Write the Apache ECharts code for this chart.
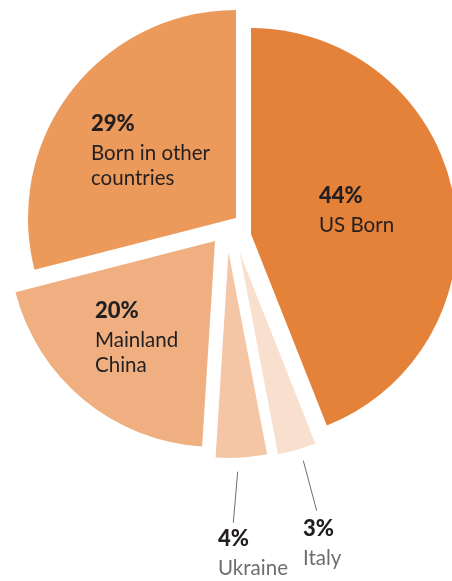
<!DOCTYPE html>
<html><head><meta charset="utf-8">
<script src="https://cdn.jsdelivr.net/npm/echarts@6/dist/echarts.min.js"></script>
<style>html,body{margin:0;padding:0;background:#fff}#c{width:452px;height:581px}</style>
</head><body><div id="c"></div>
<script>
// ---- data ----
const categories = ['US Born', 'Italy', 'Ukraine', 'Mainland China', 'Born in other countries'];
const labelNames = ['US Born', 'Italy', 'Ukraine', 'Mainland\nChina', 'Born in other\ncountries'];
const values = [44, 3, 4, 20, 29];

// ---- style / layout ----
const colors = ['#E5823A', '#F9DFCE', '#F5C6A5', '#EFAF80', '#EB9A5B'];
const sliceCenters = [[251, 234], [239.5, 252], [228.5, 252], [215, 241], [236, 218]];
const sliceRadius = [206, 206, 206, 206, 208];
const labelPos = [[319, 179], [303, 512], [218, 522], [95, 294], [91, 107]];
const nameColors = ['#231F20', '#6D6E71', '#6D6E71', '#231F20', '#231F20'];
const FONT = 'Lato, "Open Sans", sans-serif';

const chart = echarts.init(document.getElementById('c'), null, {renderer: 'canvas'});

const series = values.map((_, i) => ({
  type: 'pie',
  silent: true,
  animation: false,
  center: sliceCenters[i],
  radius: [0, sliceRadius[i]],
  startAngle: 90,
  clockwise: true,
  avoidLabelOverlap: false,
  emphasis: {disabled: true},
  labelLine: {show: false},
  label: {
    show: true,
    position: 'inside',
    align: 'left',
    formatter: p => '{p|' + p.value + '%}\n{n' + i + '|' + labelNames[p.dataIndex] + '}',
    rich: {
      p: {fontFamily: FONT, fontSize: 22, fontWeight: 900, color: '#231F20', lineHeight: 34, align: 'left'},
      ['n' + i]: {fontFamily: FONT, fontSize: 20.5, fontWeight: 400, color: nameColors[i], lineHeight: 25, align: 'left'}
    }
  },
  labelLayout: params => (params.dataIndex === i ? {
    x: labelPos[i][0], y: labelPos[i][1], align: 'left', verticalAlign: 'top'
  } : {}),
  data: values.map((v, j) => ({
    value: v,
    name: categories[j],
    itemStyle: {color: j === i ? colors[j] : 'rgba(0,0,0,0)'},
    label: {show: j === i}
  }))
}));

chart.setOption({
  animation: false,
  textStyle: {fontFamily: FONT},
  series: series,
  graphic: [
    {type: 'line', silent: true, shape: {x1: 237.7, y1: 471.7, x2: 233.3, y2: 522.7}, style: {stroke: '#6D6E71', lineWidth: 1}},
    {type: 'line', silent: true, shape: {x1: 303.3, y1: 460.7, x2: 316.7, y2: 510.7}, style: {stroke: '#6D6E71', lineWidth: 1}}
  ]
});
</script>
</body></html>
